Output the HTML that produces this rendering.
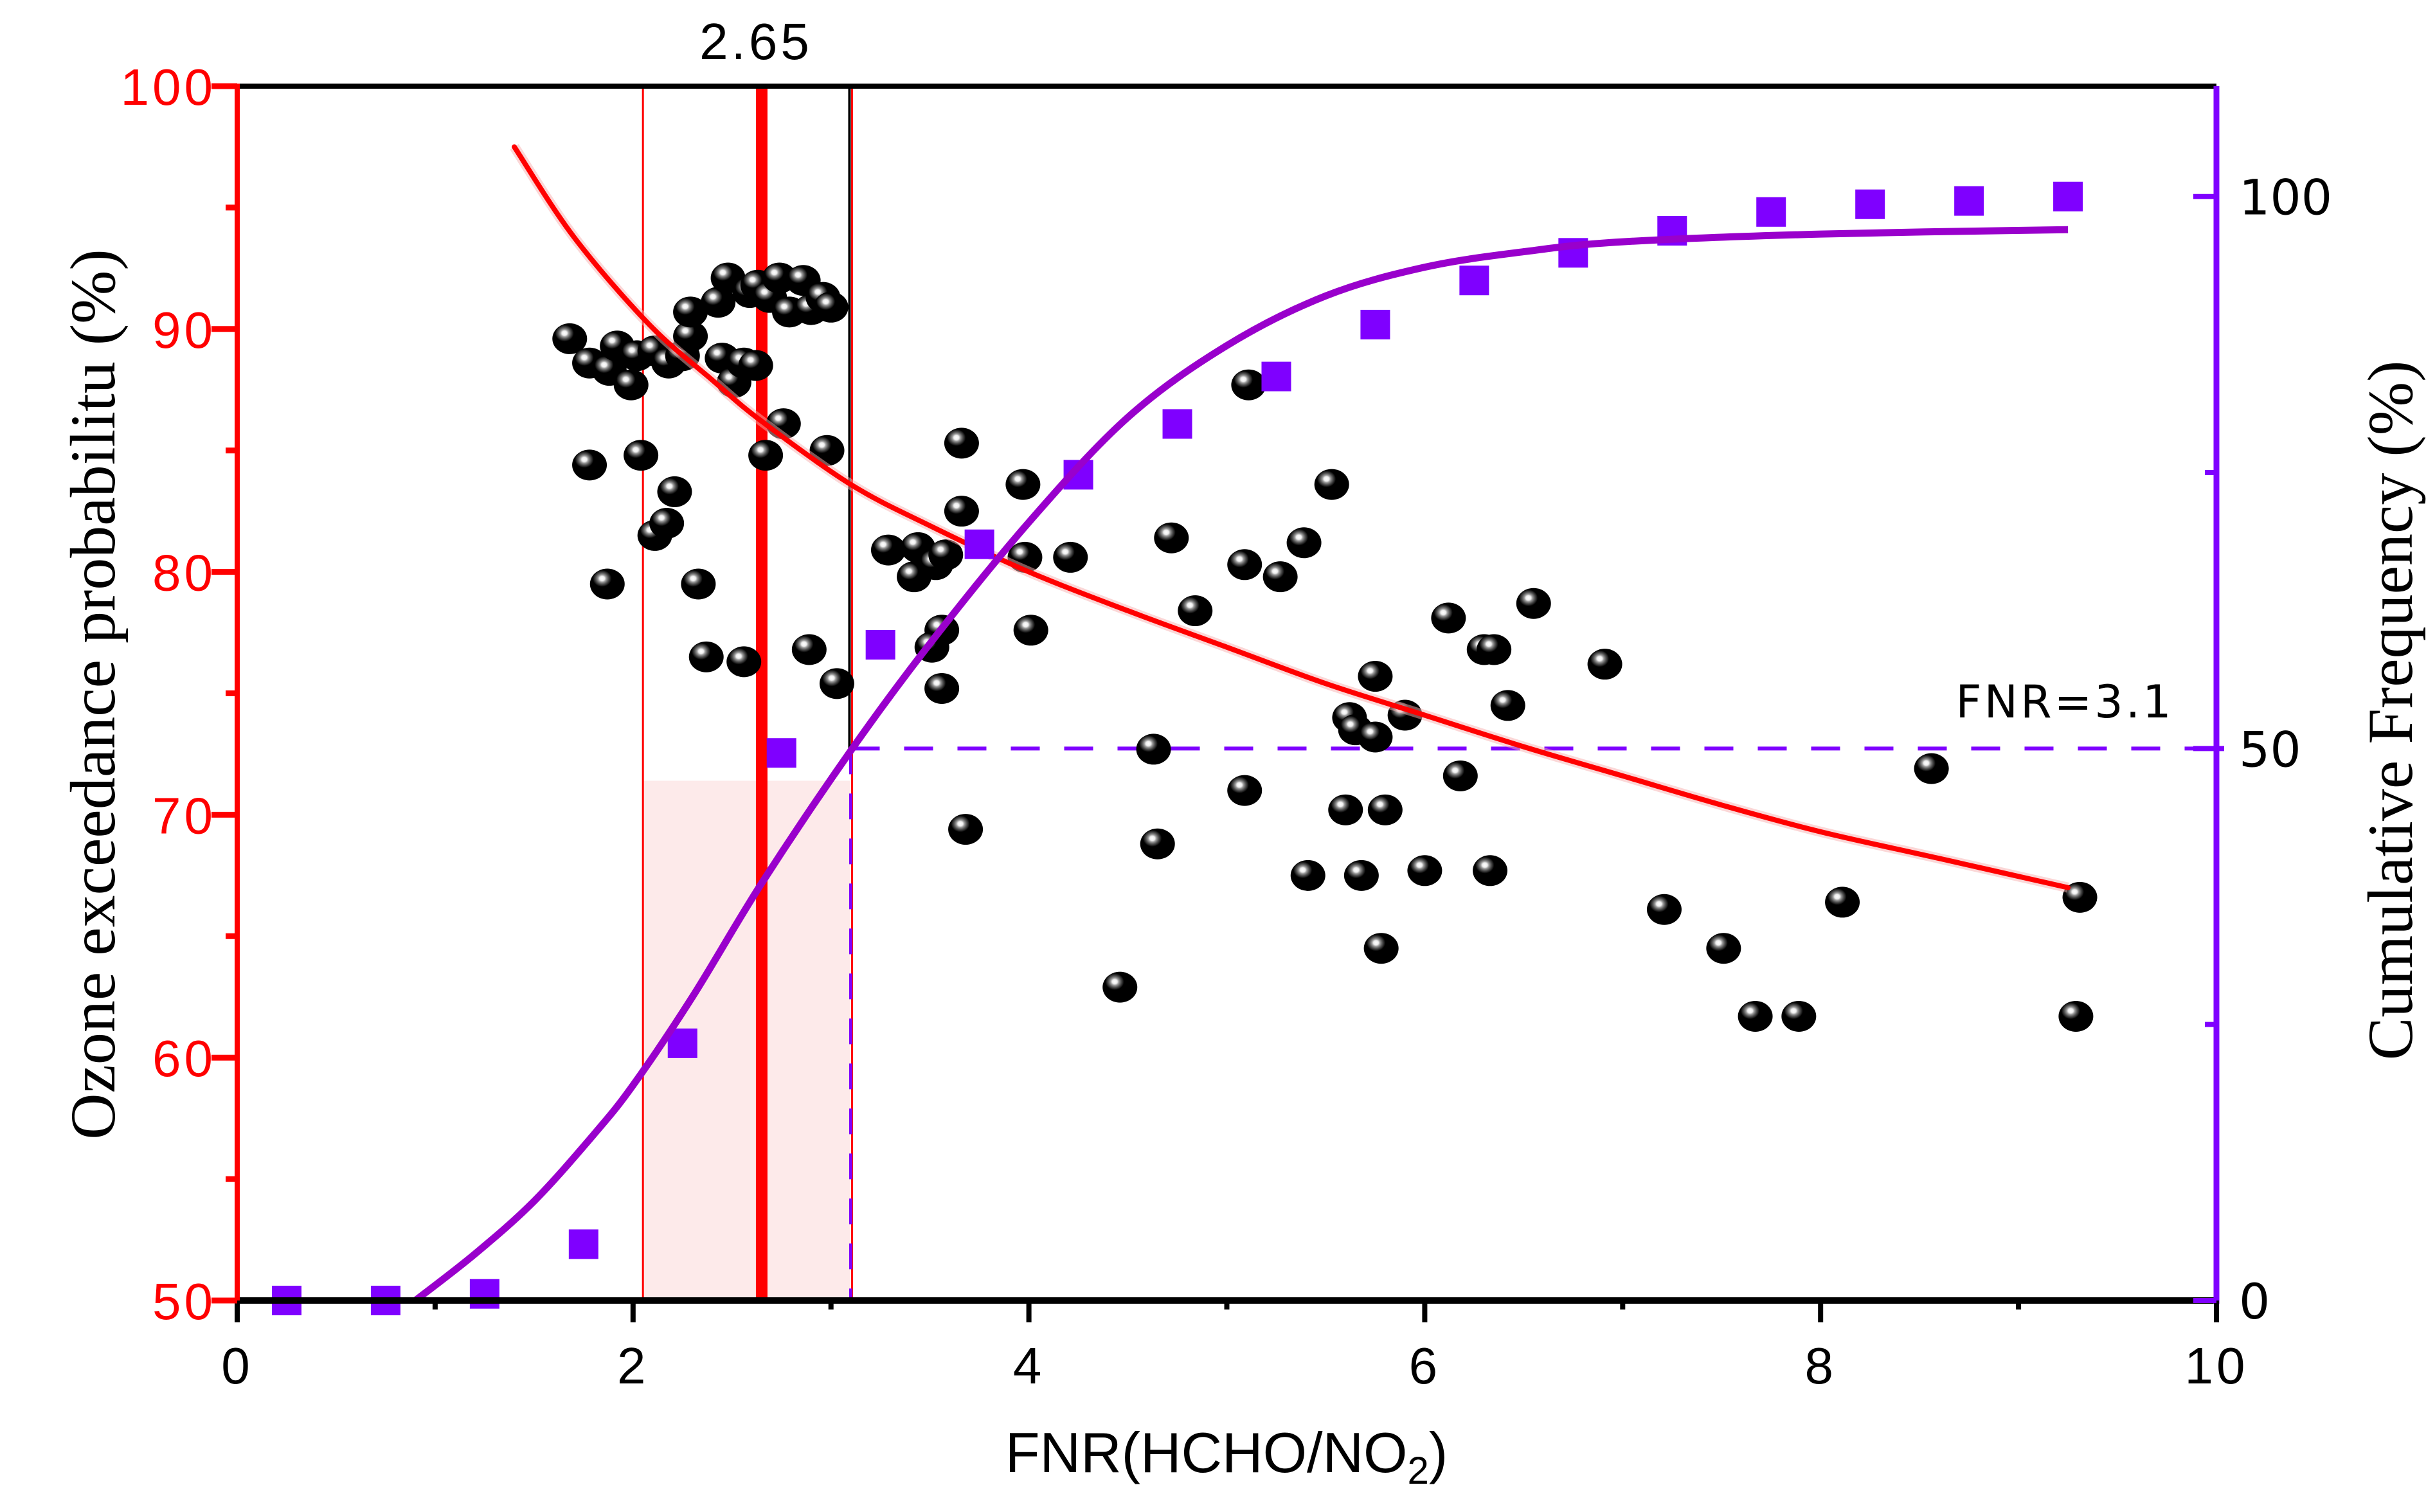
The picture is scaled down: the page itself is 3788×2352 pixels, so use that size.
<!DOCTYPE html>
<html><head><meta charset="utf-8"><style>
html,body{margin:0;padding:0;background:#fff;}
svg{display:block;}
.tk{font-family:"Liberation Sans",sans-serif;font-size:80px;letter-spacing:5px;}
.tr{font-family:"DejaVu Sans","Liberation Sans",sans-serif;font-size:76px;}
.ser{font-family:"Liberation Serif",serif;font-size:100px;}
</style></head><body>
<svg id="chart" width="3788" height="2352" viewBox="0 0 3788 2352" xmlns="http://www.w3.org/2000/svg">
<defs>
<radialGradient id="ball" cx="0.35" cy="0.32" r="0.6">
<stop offset="0" stop-color="#fff"/><stop offset="0.12" stop-color="#eee"/><stop offset="0.2" stop-color="#999"/><stop offset="0.3" stop-color="#555"/><stop offset="0.45" stop-color="#000"/><stop offset="1" stop-color="#000"/>
</radialGradient>
</defs>
<g id="bg"></g>
<g id="marks"></g>
<g id="axes"></g>
</svg>
<script>
// ---- data ----
const scatterX = [1.68,1.78,1.88,1.92,1.99,2.02,2.11,2.18,2.25,2.29,2.29,2.43,2.48,2.59,2.63,2.69,2.74,2.79,2.86,2.90,2.96,3.00,2.45,2.51,2.56,2.62,1.78,2.04,2.11,2.17,2.21,1.87,2.33,2.37,2.56,2.67,2.76,2.89,2.98,3.03,3.66,3.66,3.29,3.44,3.42,3.53,3.58,3.56,3.51,3.56,3.68,3.97,3.98,4.01,4.21,4.63,4.65,4.72,4.84,4.46,5.11,5.09,5.27,5.39,5.53,5.09,5.41,5.60,5.62,5.65,5.68,5.75,5.75,5.78,5.80,5.90,6.00,6.12,6.18,6.30,6.35,6.33,6.42,6.55,6.91,7.21,7.51,7.67,7.89,8.11,8.56,9.31,9.29];
const scatterY = [89.6,88.6,88.3,89.3,87.7,88.9,89.1,88.6,88.9,89.7,90.7,91.1,92.1,91.5,91.8,91.3,92.1,90.7,92.0,90.8,91.3,90.9,88.8,87.8,88.6,88.5,84.4,84.8,81.5,82.0,83.3,79.5,79.5,76.5,76.3,84.8,86.1,76.8,85.0,75.4,85.3,82.5,80.9,81.0,79.8,80.3,80.7,77.6,76.9,75.2,69.4,83.6,80.6,77.6,80.6,72.7,68.8,81.4,78.4,62.9,87.7,80.3,79.8,81.2,83.6,71.0,67.5,70.2,74.0,73.5,67.5,75.7,73.2,64.5,70.2,74.1,67.7,78.1,71.6,76.8,76.8,67.7,74.5,78.7,76.2,66.1,64.5,61.7,61.7,66.4,71.9,66.6,61.7];
const cumX = [0.25,0.75,1.25,1.75,2.25,2.75,3.25,3.75,4.25,4.75,5.25,5.75,6.25,6.75,7.25,7.75,8.25,8.75,9.25];
const cumY = [0,0,0.6,5.1,23.3,49.6,59.4,68.5,74.8,79.4,83.7,88.4,92.4,94.9,96.9,98.6,99.3,99.6,100];
const fitRedX = [1.4,1.7,2.08,2.4,2.65,3.1,3.5,4,4.5,5,5.5,6,6.5,7,7.5,8,8.6,9.25];
const fitRedY = [97.5,93.8,90.2,87.9,86.2,83.6,81.9,80.0,78.4,76.9,75.4,74.1,72.8,71.6,70.4,69.3,68.2,67.0];
const fitPurX = [0.9,1.2,1.5,1.8,2.0,2.3,2.65,3.1,3.5,4.0,4.5,5.0,5.5,6.0,6.5,7.0,8.0,9.25];
const fitPurY = [0,4.2,9.0,15.0,19.5,27.5,37.8,49.8,59.5,70.5,80.0,86.5,91.0,93.6,95.0,95.9,96.6,97.0];
const xTicks = [0,2,4,6,8,10];
const leftTicks = [50,60,70,80,90,100];
const rightTicks = [0,50,100];
const markLines = [2.05,2.65,3.1];
const bandTop = 71.4;
const thresholdCum = 50;

// ---- scales ----
const X0=369, X1=3448, YT=134, YB=2023;
const sx = v => X0 + (v-0)/(10-0)*(X1-X0);
const syL = v => YB - (v-50)/(100-50)*(YB-YT);
const syR = v => YB - (v-0)/(110-0)*(YB-YT);
const NS='http://www.w3.org/2000/svg';
function mk(tag, attrs, parent){const e=document.createElementNS(NS,tag);for(const k in attrs)e.setAttribute(k,attrs[k]);parent.appendChild(e);return e;}
const bg=document.getElementById('bg'), marks=document.getElementById('marks'), axes=document.getElementById('axes');
const RED='#ff0000', PUR='#7f00ff', PURC='#9900cc';

let el=mk('rect',{x:sx(markLines[0]),y:syL(bandTop),width:sx(markLines[2])-sx(markLines[0]),height:YB-syL(bandTop),fill:'#fdeaea'},bg);


el=mk('line',{x1:sx(markLines[0]),y1:YT,x2:sx(markLines[0]),y2:YB,stroke:RED,'stroke-width':3},bg);


el=mk('line',{x1:sx(markLines[1]),y1:YT,x2:sx(markLines[1]),y2:YB,stroke:RED,'stroke-width':18},bg);


el=mk('line',{x1:sx(markLines[2])-2,y1:YT,x2:sx(markLines[2])-2,y2:syR(thresholdCum),stroke:'#000','stroke-width':4},bg);


el=mk('line',{x1:sx(markLines[2])+2,y1:YT,x2:sx(markLines[2])+2,y2:YB,stroke:RED,'stroke-width':3},bg);


el=mk('line',{x1:sx(markLines[2]),y1:syR(thresholdCum),x2:sx(markLines[2]),y2:YB,stroke:PUR,'stroke-width':5,'stroke-dasharray':'40 30'},bg);


el=mk('line',{x1:sx(markLines[2]),y1:syR(thresholdCum),x2:X1,y2:syR(thresholdCum),stroke:PUR,'stroke-width':6,'stroke-dasharray':'45 38'},bg);



function smooth(xs,ys,fx,fy){const p=xs.map((x,i)=>[fx(x),fy(ys[i])]);let d='M'+p[0][0]+','+p[0][1];
for(let i=0;i<p.length-1;i++){const p0=p[i-1]||p[i],p1=p[i],p2=p[i+1],p3=p[i+2]||p2;
d+=' C'+(p1[0]+(p2[0]-p0[0])/6)+','+(p1[1]+(p2[1]-p0[1])/6)+' '+(p2[0]-(p3[0]-p1[0])/6)+','+(p2[1]-(p3[1]-p1[1])/6)+' '+p2[0]+','+p2[1];}return d;}

scatterX.forEach((x,i)=>{const b=mk('ellipse',{cx:sx(x),cy:syL(scatterY[i]),rx:27,ry:24,fill:'url(#ball)'},marks);

});

el=mk('path',{d:smooth(fitRedX,fitRedY,sx,syL),fill:'none',stroke:'#f8b0b0','stroke-width':16,opacity:0.5},marks);


el=mk('path',{d:smooth(fitRedX,fitRedY,sx,syL),fill:'none',stroke:RED,'stroke-width':8,'stroke-linecap':'round'},marks);



cumX.forEach((x,i)=>{const s=mk('rect',{x:sx(x)-23,y:syR(cumY[i])-23,width:46,height:46,fill:PUR},marks);

});
el=mk('path',{d:smooth(fitPurX,fitPurY,sx,syR),fill:'none',stroke:PURC,'stroke-width':11},marks);



el=mk('line',{x1:X0,y1:YT,x2:X1,y2:YT,stroke:'#000','stroke-width':8},axes);


el=mk('line',{x1:X0,y1:YB,x2:X1,y2:YB,stroke:'#000','stroke-width':10},axes);


el=mk('line',{x1:X0,y1:YT-4,x2:X0,y2:YB+5,stroke:RED,'stroke-width':8},axes);


el=mk('line',{x1:X1,y1:YT,x2:X1,y2:YB+5,stroke:PUR,'stroke-width':9},axes);



xTicks.forEach((t,i)=>{
 el=mk('line',{x1:sx(t),y1:YB,x2:sx(t),y2:YB+34,stroke:'#000','stroke-width':8},axes);
 
 
 if(i<xTicks.length-1){el=mk('line',{x1:sx(t+1),y1:YB,x2:sx(t+1),y2:YB+14,stroke:'#000','stroke-width':8},axes);
 
 }
 el=mk('text',{x:sx(t),y:2152,'text-anchor':'middle',class:'tk',fill:'#000'},axes);el.textContent=t;
 
 
});
leftTicks.forEach((t,i)=>{
 el=mk('line',{x1:X0-40,y1:syL(t),x2:X0,y2:syL(t),stroke:RED,'stroke-width':9},axes);
 
 
 if(i<leftTicks.length-1){el=mk('line',{x1:X0-18,y1:syL(t+5),x2:X0,y2:syL(t+5),stroke:RED,'stroke-width':9},axes);
 
 }
 el=mk('text',{x:336,y:syL(t)+29,'text-anchor':'end',class:'tk',fill:RED},axes);el.textContent=t;
 
 
});
rightTicks.forEach((t,i)=>{
 el=mk('line',{x1:X1-36,y1:syR(t),x2:X1+(t===50?12:0),y2:syR(t),stroke:PUR,'stroke-width':8},axes);
 
 
 if(i<rightTicks.length-1){el=mk('line',{x1:X1-18,y1:syR(t+25),x2:X1,y2:syR(t+25),stroke:PUR,'stroke-width':8},axes);
 
 }
 el=mk('text',{x:3483,y:syR(t)+28,'text-anchor':'start',class:'tr',fill:'#000'},axes);el.textContent=t;
 
 
});
</script>
<svg style="position:absolute;left:0;top:0" width="3788" height="2352">
<text x="1176" y="92" text-anchor="middle" class="tk">2.65</text>
<text x="3212" y="1116" text-anchor="middle" class="tr" style="font-size:70px;letter-spacing:4px">FNR=3.1</text>
<text x="1908" y="2290" text-anchor="middle" style="font-family:'Liberation Sans',sans-serif;font-size:88px">FNR(HCHO/NO<tspan font-size="60" dy="18">2</tspan><tspan dy="-18">)</tspan></text>
<text transform="translate(178,1080) rotate(-90)" text-anchor="middle" class="ser">Ozone exceedance probabilitu (%)</text>
<text transform="translate(3752,1105) rotate(-90)" text-anchor="middle" class="ser">Cumulative Frequency (%)</text>
</svg>
</body></html>
